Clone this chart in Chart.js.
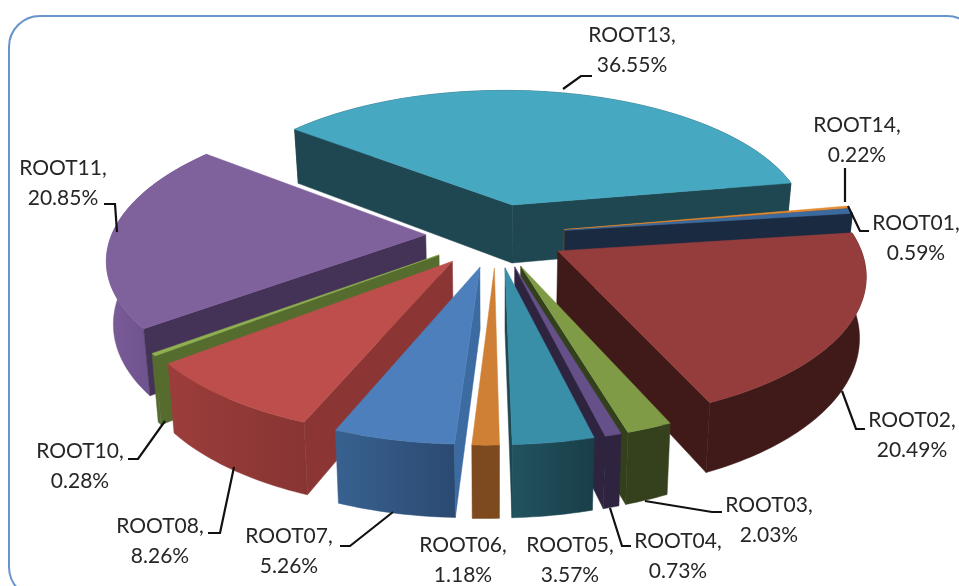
<!DOCTYPE html>
<html><head><meta charset="utf-8">
<script src="https://cdn.jsdelivr.net/npm/chart.js@4/dist/chart.umd.min.js"></script>
<style>
html,body{margin:0;padding:0;background:#fff;overflow:hidden;width:959px;height:586px}
#frame{position:absolute;left:8px;top:15px;width:967px;height:580px;border:2.5px solid #6694cb;border-radius:32px;box-sizing:content-box}
#wrap{position:absolute;left:0;top:0;width:959px;height:586px}
</style></head><body>
<div id="frame"></div>
<div id="wrap"><canvas id="c" width="959" height="586"></canvas></div>
<script>
const categories=['ROOT01','ROOT02','ROOT03','ROOT04','ROOT05','ROOT06','ROOT07','ROOT08','ROOT10','ROOT11','ROOT13','ROOT14'];
const percentages=[0.59,20.49,2.03,0.73,3.57,1.18,5.26,8.26,0.28,20.85,36.55,0.22];
const topColors=['#3a6a9f','#953d3c','#7f9b46','#65508a','#3a8fa8','#cf8034','#4c7fbb','#bd4e4b','#8fb050','#7f619c','#47a8c2','#e58a30'];
const sideColors=['#1a2a40','#3f1a18','#33401c','#2e2440','#1f4751','#7c4a1e','#3b6ba0','#8b3634','#566c2f','#453357','#1f4751','#a05f20'];
const rimLeft=['#1a2a40','#3f1a18','#34411c','#2e2440','#21535f','#7c4a1e','#386190','#9c3d3b','#566c2f','#7a5c98','#1f4751','#a05f20'];
const rimRight=['#1a2a40','#3f1a18','#34411c','#2e2440','#183e49','#7c4a1e','#2b4a71','#873533','#566c2f','#5f4780','#1f4751','#a05f20'];

// label placement: centre x, first line y, and leader-line polyline (in page pixels)
const labelLayout=[
 {x:916,y:223,leader:[[848,206],[860,231],[869,231]]},
 {x:912,y:420,leader:[[842,391],[856,429],[865,429]]},
 {x:769,y:505,leader:[[645,501],[712,512],[722,512]]},
 {x:678,y:541,leader:[[610,508],[622,546],[631,546]]},
 {x:570,y:545,leader:[]},
 {x:463,y:545,leader:[]},
 {x:289,y:536,leader:[[393,512],[350,546],[340,546]]},
 {x:160,y:526,leader:[[234,467],[220,533],[208,533]]},
 {x:80,y:451,leader:[[165,421],[138,459],[128,459]]},
 {x:63,y:168,leader:[[117,232],[115,204],[104,204]]},
 {x:632,y:35,leader:[[563,89],[581,76],[592,76]]},
 {x:857,y:125,leader:[[845,168],[845,202]]}
];

const VIEW={distance:2065,squash:0.457,depth:60,taper:0.982,yaw:0.12};

function project(arc,px,py,low){
  const s=VIEW.distance/(VIEW.distance-py+VIEW.yaw*px);
  const sx=arc.x+px*s*(low?VIEW.taper:1);
  const sy=arc.y+VIEW.squash*py*s+(low?VIEW.depth*s:0);
  return [sx,sy];
}
function poly(ctx,pts,fill){
  ctx.beginPath();
  pts.forEach((p,i)=>i?ctx.lineTo(p[0],p[1]):ctx.moveTo(p[0],p[1]));
  ctx.closePath();
  ctx.fillStyle=fill;ctx.strokeStyle=fill;ctx.lineWidth=0.5;
  ctx.fill();ctx.stroke();
}
const pie3d={
  id:'pie3d',
  beforeDatasetDraw(chart,args){
    const ctx=chart.ctx;
    const items=args.meta.data.map((arc,i)=>({arc,i,mid:Math.sin((arc.startAngle+arc.endAngle)/2)}));
    items.sort((a,b)=>a.mid-b.mid);
    for(const {arc,i} of items){
      const off=arc.options.offset||0;
      const m=(arc.startAngle+arc.endAngle)/2;
      const ox=Math.cos(m)*off,oy=Math.sin(m)*off,R=arc.outerRadius;
      const n=Math.max(2,Math.ceil((arc.endAngle-arc.startAngle)/0.02));
      const edge=(low)=>{const out=[];for(let k=0;k<=n;k++){const a=arc.startAngle+(arc.endAngle-arc.startAngle)*k/n;out.push(project(arc,ox+Math.cos(a)*R,oy+Math.sin(a)*R,low));}return out;};
      const top=edge(false),bot=edge(true);
      const apexT=project(arc,ox,oy,false),apexB=project(arc,ox,oy,true);
      const xs=top.map(p=>p[0]);
      const g=ctx.createLinearGradient(Math.min(...xs),0,Math.max(...xs)+0.01,0);
      g.addColorStop(0,rimLeft[i]);g.addColorStop(1,rimRight[i]);
      poly(ctx,top.concat(bot.slice().reverse()),g);
      if(top[0][0]<apexT[0]) poly(ctx,[apexT,top[0],bot[0],apexB],sideColors[i]);
      if(top[n][0]>apexT[0]) poly(ctx,[apexT,top[n],bot[n],apexB],sideColors[i]);
      poly(ctx,[apexT].concat(top),arc.options.backgroundColor);
    }
    return false;
  },
  afterDatasetsDraw(chart){
    const ctx=chart.ctx;
    ctx.save();
    ctx.strokeStyle='#111';ctx.lineWidth=2.2;ctx.lineJoin='miter';
    labelLayout.forEach(l=>{
      if(!l.leader.length)return;
      ctx.beginPath();
      l.leader.forEach((p,i)=>i?ctx.lineTo(p[0],p[1]):ctx.moveTo(p[0],p[1]));
      ctx.stroke();
    });
    ctx.fillStyle='#262626';ctx.font='21px Lato';ctx.textAlign='center';ctx.textBaseline='middle';
    chart.data.labels.forEach((name,i)=>{
      const l=labelLayout[i];
      ctx.fillText(name+',',l.x,l.y);
      ctx.fillText(chart.data.datasets[0].data[i].toFixed(2)+'%',l.x,l.y+30);
    });
    ctx.restore();
  }
};
new Chart(document.getElementById('c'),{
  type:'pie',
  data:{labels:categories,datasets:[{data:percentages,backgroundColor:topColors,borderWidth:0,offset:70,radius:306}]},
  plugins:[pie3d],
  options:{
    responsive:false,animation:false,rotation:80.5,
    layout:{padding:{left:33,bottom:116}},
    events:[],
    plugins:{legend:{display:false},tooltip:{enabled:false}}
  }
});
</script>
</body></html>
